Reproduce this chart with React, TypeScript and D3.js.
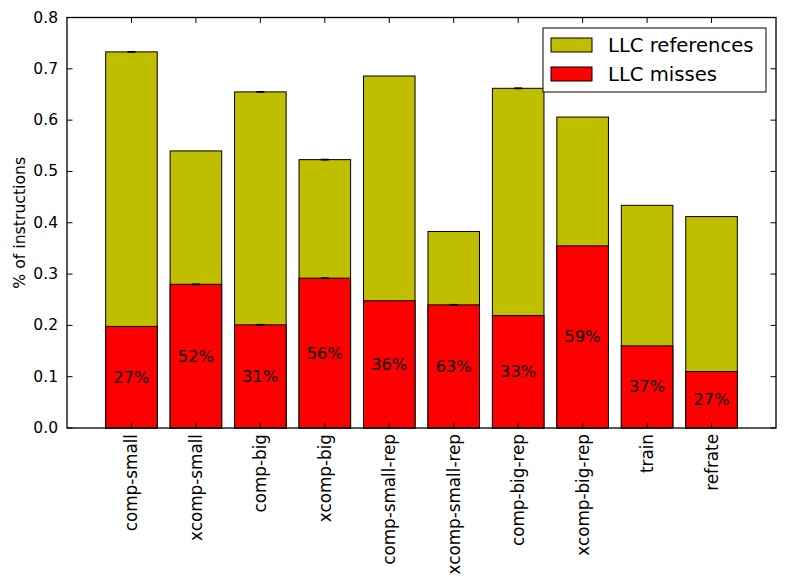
import { useEffect, useRef } from 'react';
import * as d3 from 'd3';

const categories = [
  'comp-small', 'xcomp-small', 'comp-big', 'xcomp-big', 'comp-small-rep',
  'xcomp-small-rep', 'comp-big-rep', 'xcomp-big-rep', 'train', 'refrate'
];
const llcReferences = [0.733, 0.540, 0.655, 0.523, 0.686, 0.383, 0.662, 0.606, 0.434, 0.412];
const llcMisses = [0.198, 0.280, 0.201, 0.292, 0.248, 0.240, 0.219, 0.355, 0.160, 0.110];
const referencesErr = [0.0008, 0, 0.0008, 0.0008, 0, 0, 0.0008, 0, 0, 0];
const missesErr = [0, 0.0008, 0.0008, 0.0008, 0, 0.0008, 0, 0, 0, 0];
const yTicks = [0.0, 0.1, 0.2, 0.3, 0.4, 0.5, 0.6, 0.7, 0.8];

const WIDTH = 785;
const HEIGHT = 583;
const FONT = '"DejaVu Sans", sans-serif';
const REF_COLOR = '#bfbf00';
const MISS_COLOR = '#ff0000';

export default function App() {
  const svgRef = useRef<SVGSVGElement>(null);

  useEffect(() => {
    if (!svgRef.current) return;
    const svg = d3.select(svgRef.current);
    svg.selectAll('*').remove();

    const margin = { top: 17.5, right: 9, bottom: 155, left: 67 };
    const x0 = margin.left;
    const x1 = WIDTH - margin.right;
    const y0 = margin.top;
    const y1 = HEIGHT - margin.bottom;

    const x = d3.scaleLinear().domain([-1, categories.length]).range([x0, x1]);
    const y = d3.scaleLinear().domain([0, 0.8]).range([y1, y0]);
    const barW = (x(0.8) - x(0));

    const g = svg.append('g');

    // reference bars, then misses drawn over them from zero
    const drawBars = (vals: number[], color: string) => {
      g.selectAll(null)
        .data(vals)
        .enter()
        .append('rect')
        .attr('x', (_, i) => x(i) - barW / 2)
        .attr('y', d => y(d))
        .attr('width', barW)
        .attr('height', d => y(0) - y(d))
        .attr('fill', color)
        .attr('stroke', '#000')
        .attr('stroke-width', 1);
    };
    const drawErr = (vals: number[], errs: number[]) => {
      vals.forEach((v, i) => {
        if (!errs[i]) return;
        const cx = x(i);
        g.append('line')
          .attr('x1', cx).attr('x2', cx)
          .attr('y1', y(v - errs[i])).attr('y2', y(v + errs[i]))
          .attr('stroke', '#000');
        [v - errs[i], v + errs[i]].forEach(e => {
          g.append('line')
            .attr('x1', cx - 4).attr('x2', cx + 4)
            .attr('y1', y(e)).attr('y2', y(e))
            .attr('stroke', '#000').attr('stroke-width', 1);
        });
      });
    };

    drawBars(llcReferences, REF_COLOR);
    drawErr(llcReferences, referencesErr);
    drawBars(llcMisses, MISS_COLOR);
    drawErr(llcMisses, missesErr);

    // miss ratio labels in the middle of the red bars
    g.selectAll(null)
      .data(llcMisses)
      .enter()
      .append('text')
      .attr('x', (_, i) => x(i))
      .attr('y', d => y(d / 2))
      .attr('text-anchor', 'middle')
      .attr('dominant-baseline', 'central')
      .attr('font-family', FONT)
      .attr('font-size', 16.3)
      .attr('fill', '#000')
      .text((d, i) => `${Math.round((d / llcReferences[i]) * 100)}%`);

    // frame
    svg.append('rect')
      .attr('x', x0).attr('y', y0)
      .attr('width', x1 - x0).attr('height', y1 - y0)
      .attr('fill', 'none')
      .attr('stroke', '#000')
      .attr('stroke-width', 1.3);

    const tickLen = 5.5;
    // y ticks on both sides, pointing inward
    yTicks.forEach(t => {
      const yy = y(t);
      svg.append('line').attr('x1', x0).attr('x2', x0 + tickLen).attr('y1', yy).attr('y2', yy).attr('stroke', '#000');
      svg.append('line').attr('x1', x1).attr('x2', x1 - tickLen).attr('y1', yy).attr('y2', yy).attr('stroke', '#000');
      svg.append('text')
        .attr('x', x0 - 9)
        .attr('y', yy)
        .attr('text-anchor', 'end')
        .attr('dominant-baseline', 'central')
        .attr('font-family', FONT)
        .attr('font-size', 15.5)
        .text(t.toFixed(1));
    });

    // x ticks top and bottom, rotated category labels
    categories.forEach((c, i) => {
      const xx = x(i);
      svg.append('line').attr('x1', xx).attr('x2', xx).attr('y1', y1).attr('y2', y1 - tickLen).attr('stroke', '#000');
      svg.append('line').attr('x1', xx).attr('x2', xx).attr('y1', y0).attr('y2', y0 + tickLen).attr('stroke', '#000');
      svg.append('text')
        .attr('transform', `translate(${xx},${y1 + 6}) rotate(-90)`)
        .attr('text-anchor', 'end')
        .attr('dominant-baseline', 'central')
        .attr('font-family', FONT)
        .attr('font-size', 16.8)
        .text(c);
    });

    svg.append('text')
      .attr('transform', `translate(19,${(y0 + y1) / 2}) rotate(-90)`)
      .attr('text-anchor', 'middle')
      .attr('dominant-baseline', 'central')
      .attr('font-family', FONT)
      .attr('font-size', 15.7)
      .text('% of instructions');

    // legend
    const legend = svg.append('g').attr('transform', 'translate(543,28)');
    legend.append('rect')
      .attr('width', 223).attr('height', 64)
      .attr('fill', '#fff').attr('stroke', '#000').attr('stroke-width', 1);
    const entries = [
      { label: 'LLC references', color: REF_COLOR },
      { label: 'LLC misses', color: MISS_COLOR }
    ];
    entries.forEach((e, i) => {
      const cy = 17 + i * 29;
      legend.append('rect')
        .attr('x', 8).attr('y', cy - 7)
        .attr('width', 41).attr('height', 14)
        .attr('fill', e.color).attr('stroke', '#000').attr('stroke-width', 1);
      legend.append('text')
        .attr('x', 65).attr('y', cy)
        .attr('dominant-baseline', 'central')
        .attr('font-family', FONT)
        .attr('font-size', 19.6)
        .text(e.label);
    });
  }, []);

  return (
    <svg
      ref={svgRef}
      width={WIDTH}
      height={HEIGHT}
      style={{ position: 'absolute', left: 0, top: 0, background: '#fff' }}
    />
  );
}
